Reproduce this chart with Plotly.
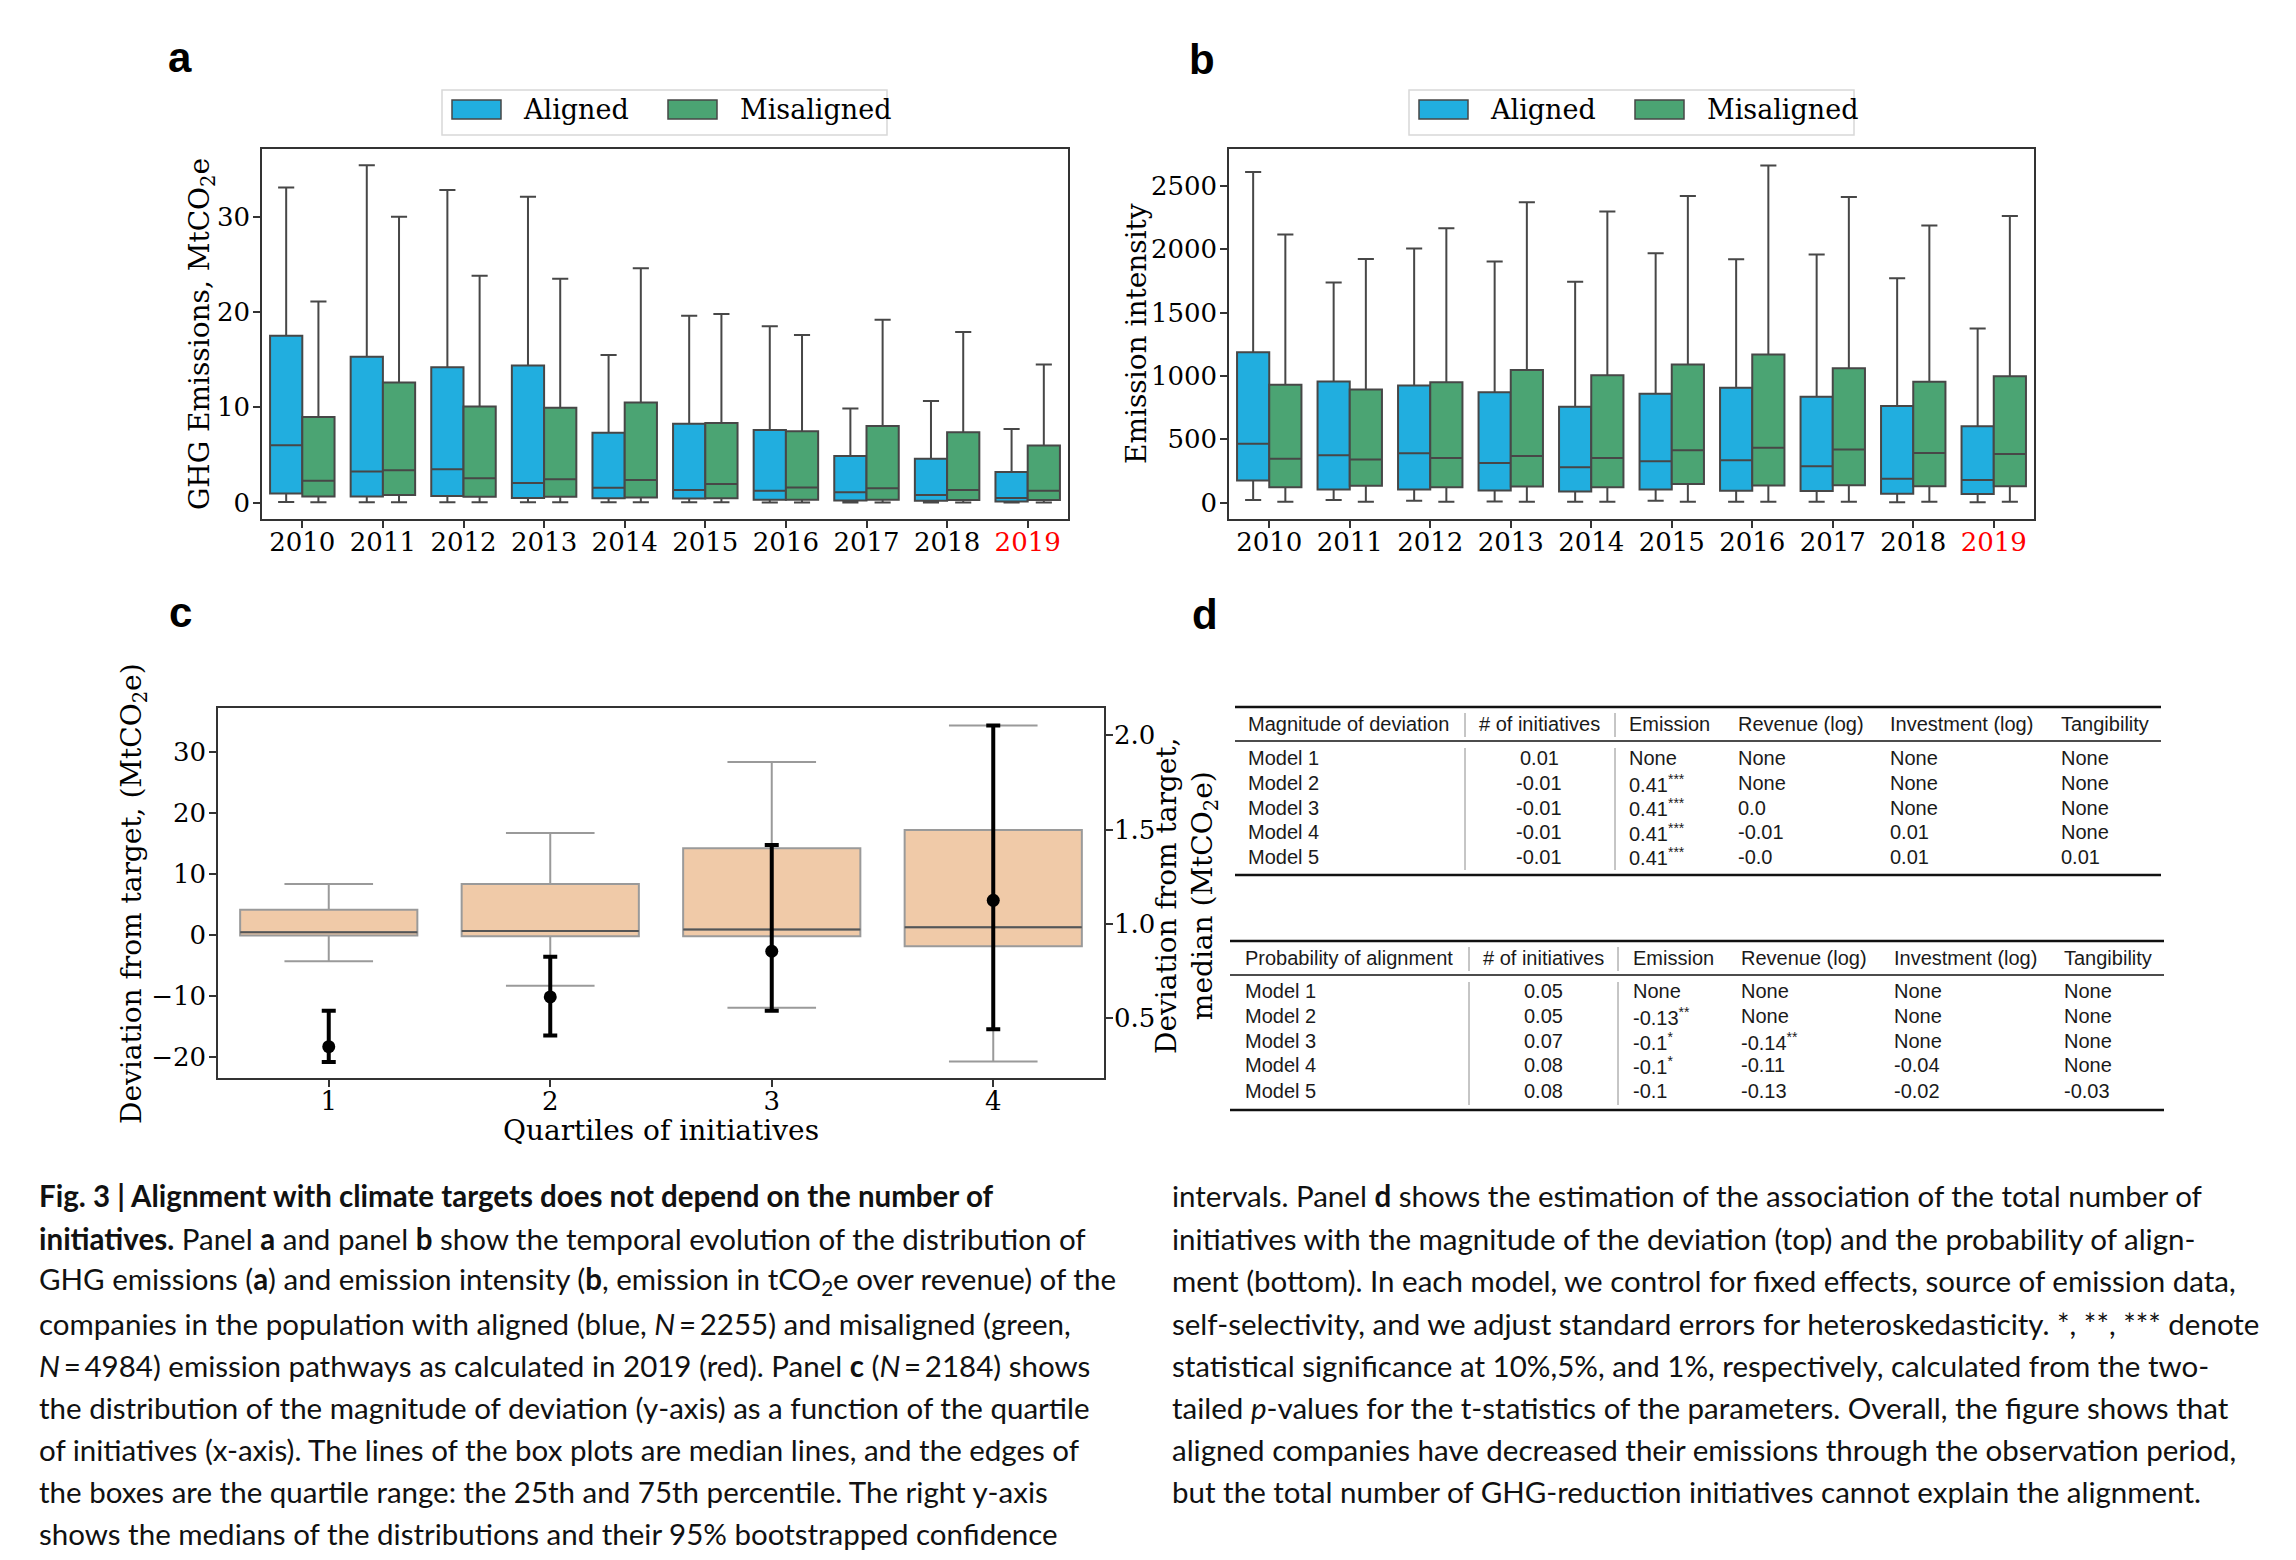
import plotly.graph_objects as go

W, H = 2296, 1560


def px(x):
    return x / W


def py(y):
    return 1 - y / H


# ---------------- data ----------------
years = ["2010", "2011", "2012", "2013", "2014", "2015", "2016", "2017", "2018", "2019"]
year_labels = ["2010", "2011", "2012", "2013", "2014", "2015", "2016", "2017", "2018",
               "<span style='color:#ff0000'>2019</span>"]

# Panel a: GHG emissions (MtCO2e)
ghg_al_lo = [0.08, 0.05, 0.05, 0.05, 0.04, 0.04, 0.03, 0.02, 0.02, 0.01]
ghg_al_q1 = [0.97, 0.66, 0.70, 0.50, 0.47, 0.43, 0.31, 0.23, 0.20, 0.12]
ghg_al_med = [6.03, 3.27, 3.50, 2.06, 1.56, 1.32, 1.25, 1.09, 0.82, 0.50]
ghg_al_q3 = [17.5, 15.3, 14.2, 14.4, 7.35, 8.29, 7.63, 4.9, 4.6, 3.23]
ghg_al_hi = [33.07, 35.4, 32.8, 32.1, 15.5, 19.6, 18.5, 9.88, 10.66, 7.74]

ghg_mis_lo = [0.05, 0.05, 0.04, 0.04, 0.04, 0.04, 0.03, 0.03, 0.02, 0.02]
ghg_mis_q1 = [0.66, 0.80, 0.62, 0.62, 0.54, 0.47, 0.31, 0.31, 0.27, 0.27]
ghg_mis_med = [2.3, 3.4, 2.57, 2.45, 2.37, 1.95, 1.6, 1.52, 1.32, 1.25]
ghg_mis_q3 = [9.0, 12.6, 10.1, 9.96, 10.5, 8.37, 7.5, 8.05, 7.4, 6.0]
ghg_mis_hi = [21.1, 30.0, 23.8, 23.5, 24.6, 19.8, 17.6, 19.2, 17.9, 14.5]

# Panel b: emission intensity
int_al_lo = [20, 20, 15, 9, 6, 15, 6, 6, 3, 3]
int_al_q1 = [175, 102, 102, 96, 88, 102, 94, 91, 70, 67]
int_al_med = [465, 374, 389, 313, 278, 327, 333, 287, 187, 178]
int_al_q3 = [1187, 956, 924, 871, 757, 860, 906, 836, 763, 602]
int_al_hi = [2611, 1737, 2006, 1904, 1743, 1968, 1921, 1959, 1772, 1374]

int_mis_lo = [6, 6, 6, 6, 6, 6, 6, 6, 6, 6]
int_mis_q1 = [120, 132, 120, 126, 120, 146, 134, 137, 129, 129]
int_mis_med = [345, 339, 351, 368, 351, 412, 433, 418, 392, 383]
int_mis_q3 = [930, 892, 950, 1047, 1006, 1091, 1170, 1061, 953, 997]
int_mis_hi = [2117, 1924, 2167, 2371, 2298, 2421, 2661, 2412, 2187, 2263]

# Panel c: deviation from target by quartile of initiatives
quartiles = [1, 2, 3, 4]
dev_lo = [-4.3, -8.3, -11.9, -20.7]
dev_q1 = [-0.1, -0.2, -0.2, -1.83]
dev_med = [0.44, 0.65, 0.9, 1.26]
dev_q3 = [4.14, 8.35, 14.2, 17.2]
dev_hi = [8.35, 16.7, 28.3, 34.3]

ci_median = [0.349, 0.613, 0.855, 1.125]
ci_upper = [0.539, 0.826, 1.418, 2.052]
ci_lower = [0.268, 0.408, 0.539, 0.441]

# Panel d: regression tables
tab_cols = ["# of initiatives", "Emission", "Revenue (log)", "Investment (log)", "Tangibility"]
models = ["Model 1", "Model 2", "Model 3", "Model 4", "Model 5"]
t1_title = "Magnitude of deviation"
t1_rows = [
    ["0.01", "None", "None", "None", "None"],
    ["-0.01", "0.41<sup>***</sup>", "None", "None", "None"],
    ["-0.01", "0.41<sup>***</sup>", "0.0", "None", "None"],
    ["-0.01", "0.41<sup>***</sup>", "-0.01", "0.01", "None"],
    ["-0.01", "0.41<sup>***</sup>", "-0.0", "0.01", "0.01"],
]
t2_title = "Probability of alignment"
t2_rows = [
    ["0.05", "None", "None", "None", "None"],
    ["0.05", "-0.13<sup>**</sup>", "None", "None", "None"],
    ["0.07", "-0.1<sup>*</sup>", "-0.14<sup>**</sup>", "None", "None"],
    ["0.08", "-0.1<sup>*</sup>", "-0.11", "-0.04", "None"],
    ["0.08", "-0.1", "-0.13", "-0.02", "-0.03"],
]

caption_left = [
    "<b>Fig. 3 | Alignment with climate targets does not depend on the number of</b>",
    "<b>initiatives.</b> Panel <b>a</b> and panel <b>b</b> show the temporal evolution of the distribution of",
    "GHG emissions (<b>a</b>) and emission intensity (<b>b</b>, emission in tCO<sub>2</sub>e over revenue) of the",
    "companies in the population with aligned (blue, <i>N</i>\u2009=\u20092255) and misaligned (green,",
    "<i>N</i>\u2009=\u20094984) emission pathways as calculated in 2019 (red). Panel <b>c</b> (<i>N</i>\u2009=\u20092184) shows",
    "the distribution of the magnitude of deviation (y-axis) as a function of the quartile",
    "of initiatives (x-axis). The lines of the box plots are median lines, and the edges of",
    "the boxes are the quartile range: the 25th and 75th percentile. The right y-axis",
    "shows the medians of the distributions and their 95% bootstrapped confidence",
]
caption_right = [
    "intervals. Panel <b>d</b> shows the estimation of the association of the total number of",
    "initiatives with the magnitude of the deviation (top) and the probability of align-",
    "ment (bottom). In each model, we control for fixed effects, source of emission data,",
    "self-selectivity, and we adjust standard errors for heteroskedasticity. *, **, *** denote",
    "statistical significance at 10%,5%, and 1%, respectively, calculated from the two-",
    "tailed <i>p</i>-values for the t-statistics of the parameters. Overall, the figure shows that",
    "aligned companies have decreased their emissions through the observation period,",
    "but the total number of GHG-reduction initiatives cannot explain the alignment.",
]

# ---------------- styles ----------------
BLUE = "#21aedf"
GREEN = "#4ba473"
PEACH = "#f0caa8"
EDGE = "#474747"
SERIF = "DejaVu Serif"
SANS = "Liberation Sans"
CAP_FONT = "Lato"
TICKFONT = dict(family=SERIF, size=26, color="#000")

fig = go.Figure()


def add_box(name, x, lo, q1, med, q3, hi, color, xa, ya):
    fig.add_trace(go.Box(
        name=name, x=x, lowerfence=lo, q1=q1, median=med, q3=q3, upperfence=hi,
        fillcolor=color, line=dict(color=EDGE, width=2), whiskerwidth=0.5,
        boxpoints=False, xaxis=xa, yaxis=ya, offsetgroup=name, alignmentgroup=xa,
        showlegend=False, hoverinfo="skip",
    ))


add_box("Aligned", years, ghg_al_lo, ghg_al_q1, ghg_al_med, ghg_al_q3, ghg_al_hi, BLUE, "x", "y")
add_box("Misaligned", years, ghg_mis_lo, ghg_mis_q1, ghg_mis_med, ghg_mis_q3, ghg_mis_hi, GREEN, "x", "y")
add_box("Aligned", years, int_al_lo, int_al_q1, int_al_med, int_al_q3, int_al_hi, BLUE, "x2", "y2")
add_box("Misaligned", years, int_mis_lo, int_mis_q1, int_mis_med, int_mis_q3, int_mis_hi, GREEN, "x2", "y2")

fig.add_trace(go.Box(
    name="deviation", x=quartiles, lowerfence=dev_lo, q1=dev_q1, median=dev_med, q3=dev_q3,
    upperfence=dev_hi, fillcolor=PEACH, line=dict(color="#9a9a9a", width=2), whiskerwidth=0.5,
    boxpoints=False, xaxis="x3", yaxis="y3", showlegend=False, hoverinfo="skip", width=0.8,
))
# darker median lines on top of the boxes
med_x, med_y = [], []
for q, m in zip(quartiles, dev_med):
    med_x += [q - 0.4, q + 0.4, None]
    med_y += [m, m, None]
fig.add_trace(go.Scatter(x=med_x, y=med_y, mode="lines", line=dict(color="#555555", width=2),
                         xaxis="x3", yaxis="y3", showlegend=False, hoverinfo="skip"))

fig.add_trace(go.Scatter(
    x=quartiles, y=ci_median, mode="markers",
    marker=dict(color="black", size=13),
    error_y=dict(type="data", symmetric=False,
                 array=[u - m for u, m in zip(ci_upper, ci_median)],
                 arrayminus=[m - l for m, l in zip(ci_median, ci_lower)],
                 color="black", thickness=4, width=7),
    xaxis="x3", yaxis="y4", showlegend=False, hoverinfo="skip",
))

axis_common = dict(showline=True, linecolor="#333", linewidth=1.5, mirror=True,
                   ticks="outside", ticklen=7, tickwidth=1.5, tickcolor="#333",
                   showgrid=False, zeroline=False, tickfont=TICKFONT)
xax = dict(axis_common, ticklabelstandoff=-8)
yax = dict(axis_common, ticklabelstandoff=-2)

fig.update_layout(
    width=W, height=H, margin=dict(l=0, r=0, t=0, b=0),
    paper_bgcolor="white", plot_bgcolor="white",
    boxmode="group", boxgap=0.2, boxgroupgap=0,
    showlegend=False,
    xaxis=dict(domain=[px(254), px(1060)], anchor="y", type="category",
               categoryorder="array", categoryarray=years, range=[-0.5, 9.5],
               tickmode="array", tickvals=years, ticktext=year_labels, **xax),
    yaxis=dict(domain=[py(511), py(141)], anchor="x", range=[-1.71, 37.1],
               tickvals=[0, 10, 20, 30], **yax),
    xaxis2=dict(domain=[px(1221), px(2026)], anchor="y2", type="category",
                categoryorder="array", categoryarray=years, range=[-0.5, 9.5],
                tickmode="array", tickvals=years, ticktext=year_labels, **xax),
    yaxis2=dict(domain=[py(511), py(141)], anchor="x2", range=[-130, 2792],
                tickvals=[0, 500, 1000, 1500, 2000, 2500], **yax),
    xaxis3=dict(domain=[px(210), px(1096)], anchor="y3", range=[0.5, 4.5],
                tickvals=quartiles, **xax),
    yaxis3=dict(domain=[py(1070), py(700)], anchor="x3", range=[-23.4, 37.15],
                tickvals=[-20, -10, 0, 10, 20, 30], **dict(yax, mirror=False)),
    yaxis4=dict(overlaying="y3", anchor="x3", side="right", range=[0.183, 2.145],
                tickvals=[0.5, 1.0, 1.5, 2.0], ticktext=["0.5", "1.0", "1.5", "2.0"],
                **dict(axis_common, mirror=False, ticklabelstandoff=-4)),
)

ann = []
shapes = []

# panel letters
for letter, x, y in [("a", 158, 50), ("b", 1179, 52), ("c", 159, 605), ("d", 1182, 607)]:
    ann.append(dict(text=f"<b>{letter}</b>", x=px(x), y=py(y), xref="paper", yref="paper",
                    xanchor="left", yanchor="middle", showarrow=False,
                    font=dict(family=SANS, size=42, color="#000")))

# axis titles
title_font = dict(family=SERIF, size=28, color="#000")
ann.append(dict(text="GHG Emissions, MtCO<sub>2</sub>e", x=px(193), y=py(326), xref="paper",
                yref="paper", textangle=-90, showarrow=False, font=title_font,
                xanchor="center", yanchor="middle"))
ann.append(dict(text="Emission intensity", x=px(1128), y=py(326), xref="paper",
                yref="paper", textangle=-90, showarrow=False, font=title_font,
                xanchor="center", yanchor="middle"))
ann.append(dict(text="Deviation from target, (MtCO<sub>2</sub>e)", x=px(125), y=py(885),
                xref="paper", yref="paper", textangle=-90, showarrow=False, font=title_font,
                xanchor="center", yanchor="middle"))
ann.append(dict(text="Deviation from target,<br>median (MtCO<sub>2</sub>e)", x=px(1178),
                y=py(887), xref="paper", yref="paper", textangle=-90, showarrow=False,
                font=title_font, xanchor="center", yanchor="middle"))
ann.append(dict(text="Quartiles of initiatives", x=px(653), y=py(1122), xref="paper",
                yref="paper", showarrow=False, font=title_font, xanchor="center",
                yanchor="middle"))

# manual legends (matplotlib-style patches)
for dx in [0, 967]:
    shapes.append(dict(type="rect", xref="paper", yref="paper",
                       x0=px(434 + dx), x1=px(879 + dx), y0=py(127), y1=py(82),
                       line=dict(color="#d8d8d8", width=1.5), fillcolor="white"))
    for sx, col, lab, tx in [(444, BLUE, "Aligned", 513), (660, GREEN, "Misaligned", 730)]:
        shapes.append(dict(type="rect", xref="paper", yref="paper",
                           x0=px(sx + dx), x1=px(sx + 49 + dx), y0=py(111), y1=py(92),
                           line=dict(color=EDGE, width=1.5), fillcolor=col))
        ann.append(dict(text=lab, x=px(tx + dx), y=py(102), xref="paper", yref="paper",
                        xanchor="left", yanchor="middle", showarrow=False,
                        font=dict(family=SERIF, size=27, color="#000")))

# tables
tab_font = dict(family=SANS, size=20, color="#1a1a1a")


def draw_table(title, rows, left, right, top, header_y, mid, row_ys, bottom,
               col0_x, col1_cx, col_xs, v1, v2):
    for y, w in [(top, 2.5), (mid, 1.5), (bottom, 2.5)]:
        shapes.append(dict(type="line", xref="paper", yref="paper", x0=px(left), x1=px(right),
                           y0=py(y), y1=py(y), line=dict(color="#111", width=w)))
    for vx in [v1, v2]:
        for y0, y1 in [(top + 6, mid - 4), (mid + 7, bottom - 5)]:
            shapes.append(dict(type="line", xref="paper", yref="paper", x0=px(vx), x1=px(vx),
                               y0=py(y0), y1=py(y1), line=dict(color="#8c8c8c", width=1)))
    ann.append(dict(text=title, x=px(col0_x), y=py(header_y), xref="paper", yref="paper",
                    xanchor="left", yanchor="middle", showarrow=False, font=tab_font))
    ann.append(dict(text=tab_cols[0], x=px(col1_cx), y=py(header_y), xref="paper",
                    yref="paper", xanchor="center", yanchor="middle", showarrow=False,
                    font=tab_font))
    for cname, cx in zip(tab_cols[1:], col_xs):
        ann.append(dict(text=cname, x=px(cx), y=py(header_y), xref="paper", yref="paper",
                        xanchor="left", yanchor="middle", showarrow=False, font=tab_font))
    for mname, row, ry in zip(models, rows, row_ys):
        ann.append(dict(text=mname, x=px(col0_x), y=py(ry), xref="paper", yref="paper",
                        xanchor="left", yanchor="middle", showarrow=False, font=tab_font))
        ann.append(dict(text=row[0], x=px(col1_cx), y=py(ry), xref="paper", yref="paper",
                        xanchor="center", yanchor="middle", showarrow=False, font=tab_font))
        for val, cx in zip(row[1:], col_xs):
            ann.append(dict(text=val, x=px(cx), y=py(ry), xref="paper", yref="paper",
                            xanchor="left", yanchor="middle", showarrow=False, font=tab_font))


draw_table(t1_title, t1_rows, 1227, 2153, 699, 716, 733, [750, 775, 800, 824, 849], 867,
           1238, 1531, [1619, 1728, 1880, 2051], 1457, 1607)
draw_table(t2_title, t2_rows, 1222, 2156, 933, 950, 967, [983, 1008, 1033, 1057, 1083], 1102,
           1235, 1535, [1623, 1731, 1884, 2054], 1461, 1610)

# caption
cap_ys = [1187, 1230, 1272, 1315, 1357, 1399, 1441, 1483, 1525]
cap_font = dict(family=CAP_FONT, size=29.5, color="#111")
for line, y in zip(caption_left, cap_ys):
    ann.append(dict(text=line, x=px(29), y=py(y), xref="paper", yref="paper", xanchor="left",
                    yanchor="middle", showarrow=False, font=cap_font))
for line, y in zip(caption_right, cap_ys):
    ann.append(dict(text=line, x=px(1162), y=py(y), xref="paper", yref="paper",
                    xanchor="left", yanchor="middle", showarrow=False, font=cap_font))

fig.update_layout(annotations=ann, shapes=shapes)
fig.write_html("out.html")
